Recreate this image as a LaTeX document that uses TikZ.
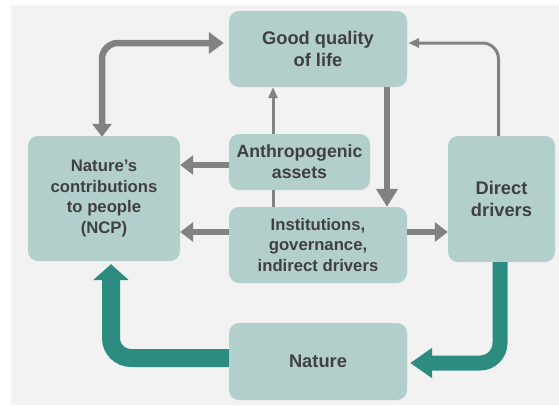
\documentclass[tikz,border=0pt]{standalone}
\usepackage{fontspec}
\setmainfont{Liberation Sans}
\usetikzlibrary{arrows.meta,calc}
\definecolor{boxfill}{HTML}{B3CFCC}
\definecolor{teal}{HTML}{2D8C80}
\definecolor{arrowgrey}{HTML}{828282}
\definecolor{textgrey}{HTML}{404040}
\definecolor{bggrey}{HTML}{F2F2F2}
\tikzset{
    box/.style={fill=boxfill, rounded corners=10pt, align=center, inner sep=2pt,
        text=textgrey, font=\fontsize{16.7}{20.5}\selectfont\bfseries},
    bigbox/.style={box, font=\fontsize{18.3}{22}\selectfont\bfseries},
    thickarrow/.style={draw=arrowgrey, line width=6.5pt, -{Triangle[length=13pt,width=19pt]}},
    thinarrow/.style={draw=arrowgrey, line width=3pt, -{Triangle[length=11pt,width=9pt]}},
    tealarrow/.style={draw=teal, line width=16pt, rounded corners=20pt}
}
\begin{document}
\begin{tikzpicture}[x=1pt, y=-1pt]
        \useasboundingbox (0,0) rectangle (559,405);
        \fill [bggrey] (11,5) rectangle (559,405);
        \node [bigbox, minimum width=178pt, minimum height=76pt] (good) at (318,49) {Good quality\\of life};
        \node [box, minimum width=152pt, minimum height=125pt] (ncp) at (104,198.5) {Nature's\\contributions\\to people\\(NCP)};
        \node [box, minimum width=178pt, minimum height=76pt] (inst) at (318,245) {Institutions,\\governance,\\indirect drivers};
        \node [bigbox, minimum width=107pt, minimum height=126pt] (direct) at (501.5,199) {Direct\\drivers};
        \node [bigbox, minimum width=178pt, minimum height=77pt] (nature) at (318,361.5) {Nature};
        \draw [thinarrow] ([xshift=-45pt]inst.north) -- ([xshift=-45pt]good.south);
        \node [box, font=\fontsize{17.7}{21}\selectfont\bfseries, minimum width=141pt, minimum height=56pt] (anthro) at (299.5,162) {Anthropogenic\\assets};
        \draw [thickarrow, {Triangle[length=13pt,width=19pt]}-{Triangle[length=15pt,width=21pt]}, rounded corners=16pt]
            ([xshift=-2pt,yshift=-1pt]ncp.north) |- ([xshift=-5pt,yshift=6pt]good.west);
        \draw [thinarrow, rounded corners=16pt, shorten >=1pt] ([xshift=-3pt]direct.north) |- ([yshift=6pt]good.east);
        \draw [thickarrow, -{Triangle[length=18pt,width=21pt]}] ([xshift=69pt]good.south) -- ([xshift=69pt]inst.north);
        \draw [thickarrow] ([yshift=-3pt]anthro.west) -- ([yshift=-3pt]anthro.west -| ncp.east);
        \draw [thickarrow] ([yshift=13pt]inst.west) -- ([yshift=13pt]inst.west -| ncp.east);
        \draw [thickarrow] ([yshift=13pt]inst.east) -- ([yshift=13pt]inst.east -| direct.west);
        \draw [tealarrow, line width=15pt, -{Triangle[length=22pt,width=29pt]}, shorten >=3pt]
            ([xshift=-1.5pt]direct.south) |- ([yshift=-1.5pt]nature.east);
        \draw [tealarrow, line width=18pt, -{Triangle[length=16pt,width=35pt]}, shorten >=3pt]
            ([yshift=3.5pt]nature.west) -| ([xshift=7pt]ncp.south);
    \end{tikzpicture}
\end{document}
